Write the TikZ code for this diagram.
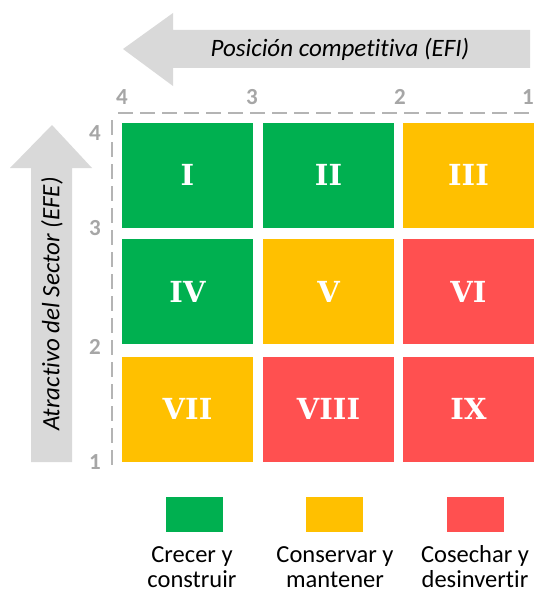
\documentclass[tikz,border=0pt]{standalone}
\usepackage{fontspec}
\setmainfont[Ligatures=NoCommon]{Carlito}
\newfontfamily\numfont{DejaVu Serif}
\usepackage{tikz}
\usetikzlibrary{positioning}
\definecolor{mygreen}{RGB}{0,176,80}
\definecolor{myamber}{RGB}{255,192,0}
\definecolor{myred}{RGB}{255,80,80}
\definecolor{arrowgray}{RGB}{217,217,217}
\definecolor{axisgray}{RGB}{166,166,166}
\definecolor{dashgray}{RGB}{180,180,180}
\tikzset{
  cell/.style={rectangle, minimum width=131pt, minimum height=105pt,
    inner sep=0pt, text=white, font=\numfont\bfseries\fontsize{29}{29}\selectfont},
  greencell/.style={cell, fill=mygreen},
  ambercell/.style={cell, fill=myamber},
  redcell/.style={cell, fill=myred},
  axisnum/.style={text=axisgray, font=\bfseries\fontsize{23}{23}\selectfont, inner sep=0pt},
  axistitle/.style={font=\itshape\fontsize{25}{25}\selectfont, inner sep=0pt},
  legbox/.style={rectangle, minimum width=57pt, minimum height=35pt, inner sep=0pt},
  legtext/.style={align=center, font=\fontsize{24.5}{25}\selectfont, inner sep=0pt},
  gridline/.style={dashgray, line width=2pt, dash pattern=on 15pt off 7pt}
}
\begin{document}
\begin{tikzpicture}[x=1pt, y=-1pt]
  \useasboundingbox (0,0) rectangle (533,594);

  % Arrows of the two axes
  \fill[arrowgray] (123,49) -- (173,13) -- (173,30) -- (530,30) -- (530,68)
    -- (173,68) -- (173,86) -- cycle;
  \node[axistitle] (efi) at (340,49) {Posición competitiva (EFI)};
  \fill[arrowgray] (52,125) -- (92,168) -- (72,168) -- (72,462) -- (31,462)
    -- (31,168) -- (10,168) -- cycle;
  \node[axistitle, rotate=90] (efe) at (52,304) {Atractivo del Sector (EFE)};

  % Scales
  \coordinate (h0) at (118,113);
  \coordinate (h1) at (533,113);
  \coordinate (v0) at (112,120);
  \coordinate (v1) at (112,470);
  \draw[gridline] (h0) -- (h1);
  \draw[gridline] (v0) -- (v1);
  \node[axisnum] (x4) at (122,97) {4};
  \node[axisnum] (x3) at (252,97) {3};
  \node[axisnum] (x2) at (400,97) {2};
  \node[axisnum] (x1) at (528,97) {1};
  \node[axisnum] (y4) at (95,133) {4};
  \node[axisnum] (y3) at (95,228) {3};
  \node[axisnum] (y2) at (95,347) {2};
  \node[axisnum] (y1) at (95,462) {1};

  % Grid
  \node[greencell] (cI)    at (187.5,175)   {I};
  \node[greencell] (cII)   at (328.5,175)   {II};
  \node[ambercell] (cIII)  at (468.5,175)   {III};
  \node[greencell] (cIV)   at (187.5,291.5) {IV};
  \node[ambercell] (cV)    at (328.5,291.5) {V};
  \node[redcell]   (cVI)   at (468.5,291.5) {VI};
  \node[ambercell] (cVII)  at (187.5,409)   {VII};
  \node[redcell]   (cVIII) at (328.5,409)   {VIII};
  \node[redcell]   (cIX)   at (468.5,409)   {IX};

  % Legend
  \node[legbox, fill=mygreen] (lgreen) at (194.5,514.5) {};
  \node[legbox, fill=myamber] (lamber) at (334.5,514.5) {};
  \node[legbox, fill=myred]   (lred)   at (475,514.5)   {};
  \node[legtext] (tgreen) at (192,567) {Crecer y\\construir};
  \node[legtext] (tamber) at (335,567) {Conservar y\\mantener};
  \node[legtext] (tred)   at (475,567) {Cosechar y\\desinvertir};
\end{tikzpicture}
\end{document}
